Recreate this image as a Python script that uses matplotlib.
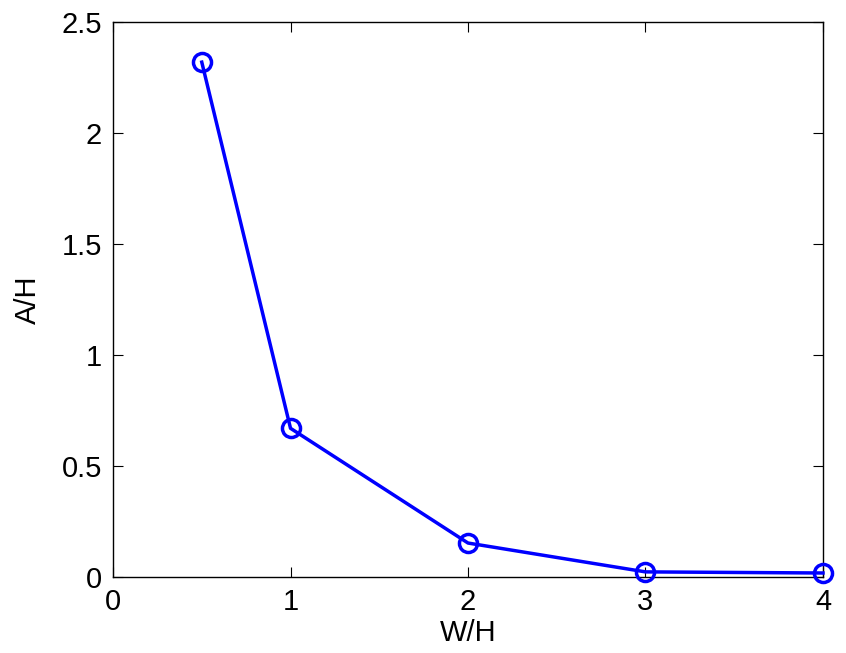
import matplotlib
matplotlib.use('Agg')
import matplotlib.pyplot as plt

# aspect ratio W/H against amplitude A/H
w_over_h = [0.5, 1, 2, 3, 4]
a_over_h = [2.32, 0.67, 0.153, 0.023, 0.018]

x_ticks = [0, 1, 2, 3, 4]
y_ticks = [0, 0.5, 1, 1.5, 2, 2.5]
y_tick_labels = ['0', '0.5', '1', '1.5', '2', '2.5']

plt.rcParams['font.family'] = ['Liberation Sans', 'DejaVu Sans']

fig = plt.figure(figsize=(8.46, 6.53), dpi=100)
ax = fig.add_axes([0.1336, 0.1164, 0.8392, 0.8496])

ax.plot(w_over_h, a_over_h, 'o-', color='#0000ff', linewidth=2.5,
        markersize=13, markerfacecolor='none', markeredgewidth=2.5,
        clip_on=False, zorder=3)

ax.set_xlim(0, 4)
ax.set_ylim(0, 2.5)
ax.set_xticks(x_ticks)
ax.set_yticks(y_ticks)
ax.set_yticklabels(y_tick_labels)
ax.tick_params(direction='in', top=True, right=True, length=7, width=0.8,
               labelsize=21, pad=8)
for s in ax.spines.values():
    s.set_linewidth(1.0)

ax.set_xlabel('W/H', fontsize=21, labelpad=2)
ax.set_ylabel('A/H', fontsize=21, labelpad=14)

plt.savefig('out.png', dpi=100)
